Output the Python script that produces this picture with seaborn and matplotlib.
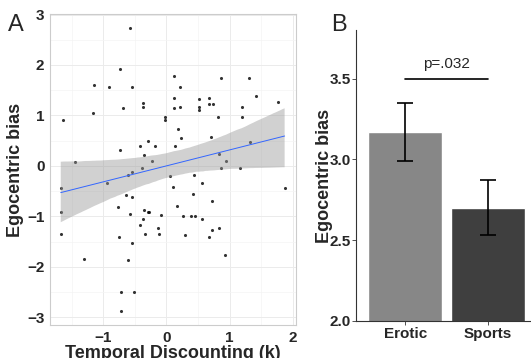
import matplotlib

matplotlib.use("Agg")
import matplotlib.pyplot as plt
import numpy as np
import pandas as pd
import seaborn as sns

# ── Panel A: temporal discounting vs egocentric bias ──────────────────────
discounting_k = [
    -1.63, -1.44, -1.14, -1.16, -0.91, -0.58, -0.73, -0.54, -0.68, -0.37,
    -0.37, -0.74, -0.42, -0.29, -0.36, -0.18, -0.22, -0.39, -0.54, -0.60,
    -0.02, -0.02, 0.12, 0.12, 0.12, 0.22, 0.22, 0.18, 0.23, 0.13,
    0.06, 0.43, 0.52, 0.52, 0.52, 0.67, 0.67, 0.73, 0.82, 0.70,
    0.87, 0.83, 0.94, 0.87, 1.16, 1.31, 1.19, 1.19, 1.42, 1.33,
    1.77, -1.67, -1.67, -1.67, -1.30, -0.94, -0.64, -0.55, -0.77, -0.58,
    -0.75, -0.55, -0.61, -0.71, -0.51, -0.71, -0.36, -0.29, -0.28, -0.37,
    -0.42, -0.33, -0.08, -0.14, -0.11, 0.10, 0.17, 0.27, 0.29, 0.42,
    0.39, 0.45, 0.56, 0.57, 0.72, 0.72, 0.68, 0.83, 0.92, 1.87,
]
ego_bias = [
    0.92, 0.08, 1.60, 1.04, 1.56, 2.73, 1.92, 1.57, 1.14, 1.25,
    1.17, 0.31, 0.39, 0.49, 0.21, 0.39, 0.10, -0.05, -0.12, -0.17,
    0.97, 0.92, 1.79, 1.34, 1.14, 1.56, 1.16, 0.73, 0.56, 0.39,
    -0.20, -0.17, 1.32, 1.17, 1.10, 1.35, 1.23, 1.23, 0.96, 0.57,
    1.74, 0.24, 0.10, -0.05, -0.04, 1.74, 1.17, 0.97, 1.39, 0.47,
    1.26, -0.44, -0.92, -1.35, -1.85, -0.34, -0.57, -0.61, -0.81, -0.96,
    -1.41, -1.53, -1.87, -2.49, -2.49, -2.88, -0.88, -0.91, -0.91, -1.06,
    -1.17, -1.35, -0.98, -1.22, -1.35, -0.41, -0.79, -1.00, -1.37, -0.56,
    -1.00, -1.00, -0.34, -1.06, -0.70, -1.27, -1.41, -1.22, -1.76, -0.44,
]

# ── Panel B: mean egocentric bias by condition ───────────────────────────
conditions = ["Erotic", "Sports"]
mean_bias = [3.17, 2.70]
err_low = [2.99, 2.53]
err_high = [3.35, 2.87]
bar_colors = ["#878787", "#3f3f3f"]
p_label = "p=.032"

FONT = ["Liberation Sans", "DejaVu Sans"]
sns.set_style("white")
plt.rcParams["font.family"] = FONT

fig = plt.figure(figsize=(5.31, 3.58), dpi=100)

# ─────────────────────────────────────────────────────────────────────────
# Panel A
# ─────────────────────────────────────────────────────────────────────────
ax1 = fig.add_axes([50 / 531, 1 - 325 / 358, 246 / 531, 311 / 358])
df = pd.DataFrame({"k": discounting_k, "bias": ego_bias})
sns.regplot(
    data=df, x="k", y="bias", ax=ax1, ci=95, seed=3, n_boot=2000,
    scatter_kws={"s": 5, "color": "black", "linewidths": 0},
    line_kws={"color": "#3366FF", "linewidth": 0.7},
    color="#3366FF",
)
# ggplot-style grey confidence band
for coll in ax1.collections:
    if isinstance(coll, matplotlib.collections.PolyCollection):
        coll.set_facecolor("#999999")
        coll.set_alpha(0.45)
        coll.set_edgecolor("none")

ax1.set_xlim(-1.84, 2.05)
ax1.set_ylim(-3.15, 3.01)
ax1.set_xticks([-1, 0, 1, 2])
ax1.set_yticks([-3, -2, -1, 0, 1, 2, 3])
ax1.set_xticks(np.arange(-1.5, 2.01, 1.0), minor=True)
ax1.set_yticks(np.arange(-2.5, 3.0, 1.0), minor=True)
ax1.grid(True, which="major", color="#ebebeb", linewidth=0.7)
ax1.grid(True, which="minor", color="#f4f4f4", linewidth=0.5)
ax1.set_axisbelow(True)
for s in ax1.spines.values():
    s.set_color("#cccccc")
    s.set_linewidth(0.8)
    s.set_visible(True)
ax1.tick_params(which="major", length=3, width=0.6, color="#cccccc",
                labelsize=11, pad=1)
ax1.tick_params(which="minor", length=0)
for lab in ax1.get_xticklabels() + ax1.get_yticklabels():
    lab.set_fontweight("bold")
ax1.set_xlabel("Temporal Discounting (k)", fontsize=13, fontweight="bold",
               labelpad=0)
ax1.set_ylabel("Egocentric bias", fontsize=13, fontweight="bold", labelpad=2)
fig.text(8 / 531, 1 - 25 / 358, "A", fontsize=17, va="center", ha="left")

# ─────────────────────────────────────────────────────────────────────────
# Panel B
# ─────────────────────────────────────────────────────────────────────────
ax2 = fig.add_axes([356 / 531, 1 - 321 / 358, 181 / 531, 291 / 358])
bar_df = pd.DataFrame({"cond": conditions, "bias": mean_bias})
sns.barplot(data=bar_df, x="cond", y="bias", hue="cond", palette=bar_colors,
            width=0.9, legend=False, ax=ax2, errorbar=None, saturation=1)
xs = np.arange(len(conditions))
yerr = [np.array(mean_bias) - np.array(err_low),
        np.array(err_high) - np.array(mean_bias)]
ax2.errorbar(xs, mean_bias, yerr=yerr, fmt="none", ecolor="black",
             elinewidth=1.2, capsize=6, capthick=1.2)
ax2.plot([0, 1], [3.5, 3.5], color="black", linewidth=1.2)
ax2.text(0.5, 3.545, p_label, ha="center", va="bottom", fontsize=11)

ax2.set_xlim(-0.6, 1.6)
ax2.set_ylim(2.0, 3.8)
ax2.set_yticks([2.0, 2.5, 3.0, 3.5])
ax2.set_yticklabels(["2.0", "2.5", "3.0", "3.5"])
sns.despine(ax=ax2)
for side in ("left", "bottom"):
    ax2.spines[side].set_color("#333333")
    ax2.spines[side].set_linewidth(0.8)
ax2.tick_params(length=3, width=0.6, color="#333333", labelsize=11, pad=1,
                left=True, bottom=True)
for lab in ax2.get_xticklabels() + ax2.get_yticklabels():
    lab.set_fontweight("bold")
ax2.set_xlabel("")
ax2.set_ylabel("Egocentric bias", fontsize=13, fontweight="bold")
ax2.yaxis.set_label_coords(-0.128, 0.5)
fig.text(339 / 531, 1 - 25 / 358, "B", fontsize=17, va="center", ha="center")

fig.savefig("out.png", dpi=100)
